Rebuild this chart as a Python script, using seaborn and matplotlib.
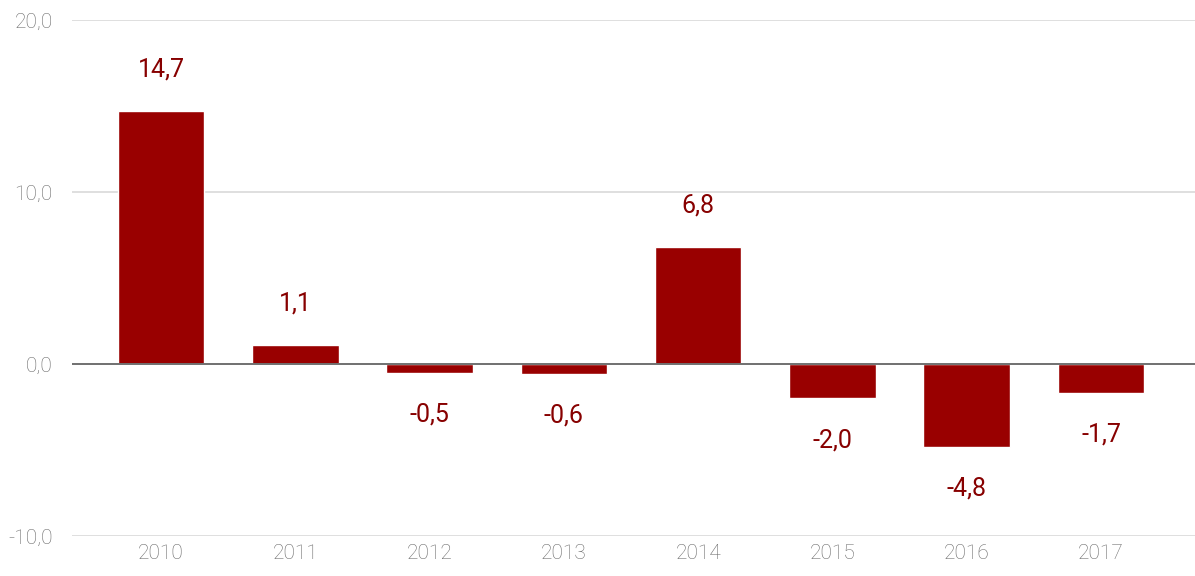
import matplotlib
matplotlib.use("Agg")
import matplotlib.pyplot as plt
import seaborn as sns
import pandas as pd

years = ["2010", "2011", "2012", "2013", "2014", "2015", "2016", "2017"]
values = [14.7, 1.1, -0.5, -0.6, 6.8, -2.0, -4.8, -1.7]
y_ticks = [-10, 0, 10, 20]

bar_color = "#990000"
label_color = "#870000"
tick_color = "#6a6a6a"

sns.set_theme(style="white")
plt.rcParams["font.family"] = ["Roboto", "DejaVu Sans"]

df = pd.DataFrame({"year": years, "value": values})

fig = plt.figure(figsize=(11.95, 5.76), dpi=100)
ax = fig.add_axes([72 / 1195, 40 / 576, (1195 - 72) / 1195, (536 - 20) / 576])

sns.barplot(data=df, x="year", y="value", color=bar_color, width=0.645,
            saturation=1, ax=ax, zorder=3)

ax.set_ylim(-10, 20)
ax.set_xlim(-0.663, 7.70)
ax.set_yticks(y_ticks)
ax.set_yticklabels([f"{t:.1f}".replace(".", ",") for t in y_ticks])
ax.set_xlabel("")
ax.set_ylabel("")

for t in y_ticks:
    if t == 0:
        ax.axhline(0, color="#707070", lw=1.4, zorder=4)
    else:
        ax.axhline(t, color="#d9d9d9", lw=1.2, zorder=1)

for i, v in enumerate(values):
    off = 30 if v >= 0 else -30
    ax.annotate(f"{v:.1f}".replace(".", ","), xy=(i, v), xytext=(0, off),
                textcoords="offset points", ha="center", va="center",
                fontsize=18, color=label_color, fontweight="normal")

for s in ax.spines.values():
    s.set_visible(False)
ax.tick_params(axis="both", length=0, labelsize=15, labelcolor=tick_color)
ax.tick_params(axis="y", pad=14)
ax.tick_params(axis="x", pad=6)
for lab in ax.get_xticklabels() + ax.get_yticklabels():
    lab.set_fontweight("light")

fig.savefig("out.png", dpi=100, facecolor="white")
